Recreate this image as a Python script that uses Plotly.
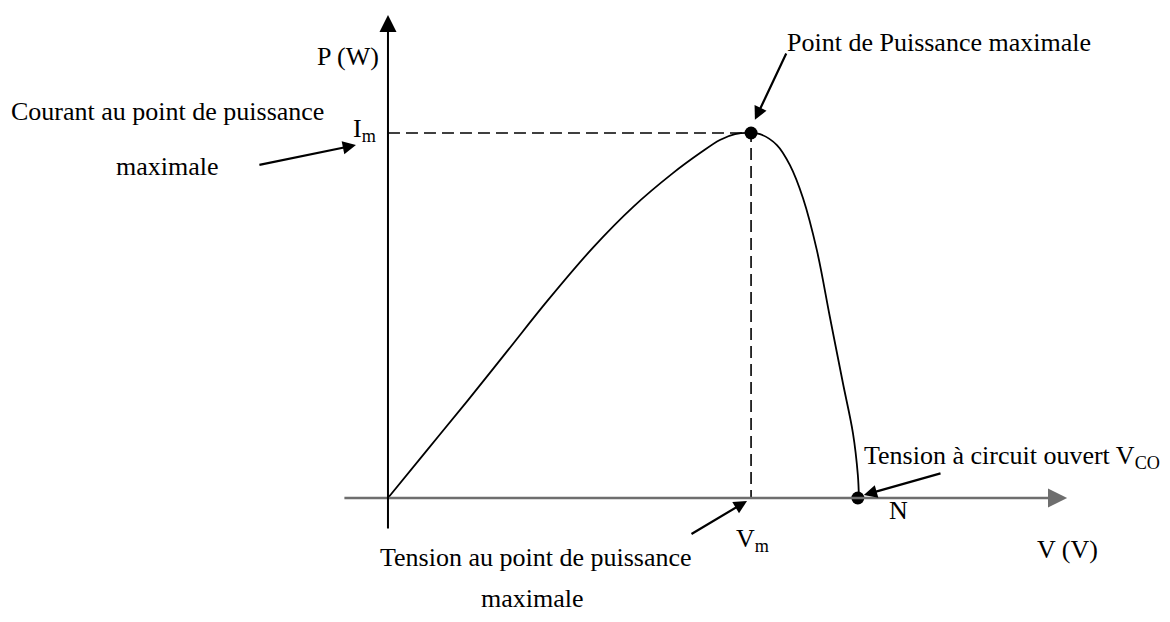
import plotly.graph_objects as go

# -----------------------------------
# 1. Data: P-V curve of a PV cell
# -----------------------------------
V_curve = [0.0, 1.87, 3.75, 5.62, 7.49, 9.60, 11.47, 13.34, 14.61, 15.54,
           16.25, 17.0, 17.42, 18.21, 18.82, 19.43, 20.08, 20.69, 21.30,
           21.77, 22.0, 22.05]
P_curve = [0.0, 13.4, 26.8, 40.5, 54.2, 68.6, 79.7, 89.0, 94.5, 98.1,
           99.7, 100.0, 99.7, 96.7, 91.2, 82.2, 67.9, 49.6, 31.5,
           17.8, 6.3, 0.0]

V_m = 17.0     # tension au point de puissance maximale
P_m = 100.0    # puissance maximale
V_co = 22.0    # tension a circuit ouvert

FONT = "Liberation Serif"
FS = 26

# -----------------------------------
# 2. Curve, dashed guides, points
# -----------------------------------
fig = go.Figure()

fig.add_trace(go.Scatter(
    x=V_curve, y=P_curve, mode="lines",
    line=dict(color="black", width=1.8, shape="spline", smoothing=1.0),
    hoverinfo="skip"
))

fig.add_trace(go.Scatter(
    x=[0, V_m, V_m], y=[P_m, P_m, 0], mode="lines",
    line=dict(color="black", width=1.6, dash="12px,6px"),
    hoverinfo="skip"
))

fig.add_trace(go.Scatter(
    x=[V_m, V_co], y=[P_m, 0], mode="markers",
    marker=dict(color="black", size=13),
    hoverinfo="skip"
))

# -----------------------------------
# 3. Axes drawn as arrows
# -----------------------------------
def arrow(x, y, ax, ay, color="black", width=1.8, size=1.0, head=2):
    fig.add_annotation(
        x=x, y=y, ax=ax, ay=ay, xref="x", yref="y", axref="x", ayref="y",
        text="", showarrow=True, arrowhead=head, arrowsize=size,
        arrowwidth=width, arrowcolor=color, standoff=0, startstandoff=0
    )

arrow(31.8, 0, -2.11, 0, color="#6e6e6e", width=2.4, size=1.6)   # V axis
arrow(0, 132.3, 0, -8.8, color="black", width=2.0, size=1.7)      # P axis

# pointer arrows
arrow(-1.5, 96.7, -6.09, 91.2, width=2.2, size=1.2)
arrow(17.18, 103.6, 18.68, 122.2, width=2.2, size=1.2)
arrow(22.28, 0.8, 25.94, 6.85, width=2.2, size=1.2)
arrow(16.81, -0.8, 14.14, -10.1, width=2.2, size=1.2)

# -----------------------------------
# 4. Labels
# -----------------------------------
def label(x, y, text, anchor="center"):
    fig.add_annotation(
        x=x, y=y, xref="x", yref="y", text=text, showarrow=False,
        xanchor=anchor, yanchor="middle",
        font=dict(family=FONT, size=FS, color="black")
    )

label(-1.87, 121.1, "P (W)")
label(-17.75, 105.8, "Courant au point de puissance", anchor="left")
label(-10.3, 90.7, "maximale")
label(-1.08, 100.8, "I<sub>m</sub>")
label(18.6, 124.7, "Point de Puissance maximale", anchor="left")
label(22.2, 11.2, "Tension à circuit ouvert V<sub>CO</sub>", anchor="left")
label(23.88, -3.3, "N")
label(31.8, -14.2, "V (V)")
label(17.09, -11.5, "V<sub>m</sub>")
label(6.93, -16.4, "Tension au point de puissance")
label(6.79, -27.6, "maximale")

# -----------------------------------
# 5. Layout (page body adds an 8px margin)
# -----------------------------------
fig.update_layout(
    width=1154, height=606,
    margin=dict(l=0, r=0, t=0, b=0),
    paper_bgcolor="white", plot_bgcolor="white",
    showlegend=False,
    xaxis=dict(range=[-17.79, 36.24], visible=False, fixedrange=True),
    yaxis=dict(range=[-31.78, 134.25], visible=False, fixedrange=True),
)

fig.write_html("out.html")
